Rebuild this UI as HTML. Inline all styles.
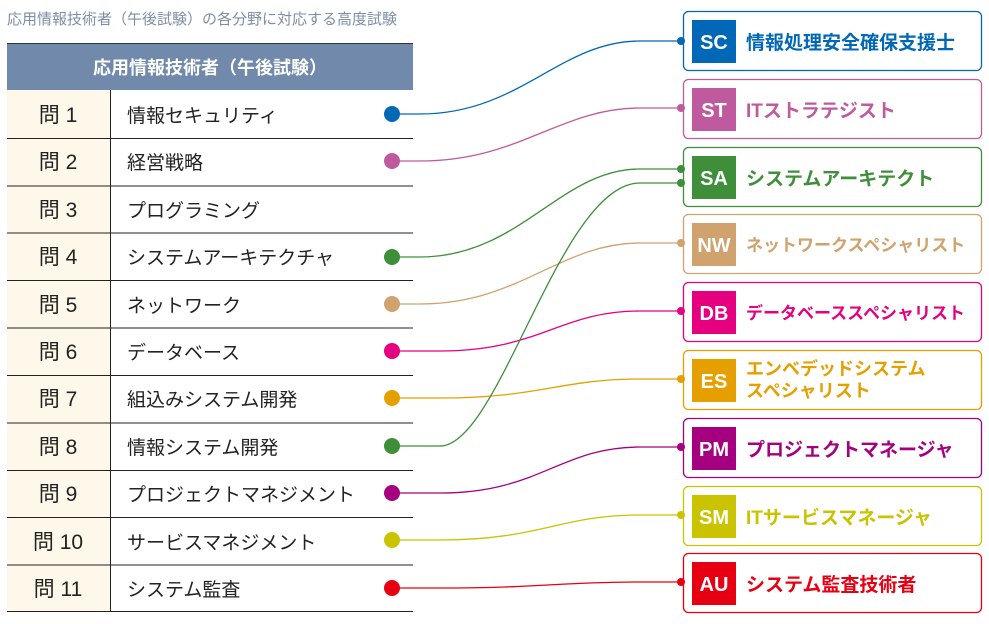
<!DOCTYPE html>
<html><head><meta charset="utf-8"><style>
html,body{margin:0;padding:0;background:#fff;}
svg{display:block;font-family:"Liberation Sans","Noto Sans CJK JP",sans-serif;}
</style></head><body>
<svg width="989" height="624" viewBox="0 0 989 624" xmlns="http://www.w3.org/2000/svg">
<text x="7" y="24" font-size="15" fill="#7d8ea6">応用情報技術者（午後試験）の各分野に対応する高度試験</text>
<rect x="7" y="43" width="406" height="47" fill="#7189ab"/>
<line x1="7" y1="43.5" x2="413" y2="43.5" stroke="#333" stroke-width="1"/>
<text x="210" y="74" font-size="18" fill="#fff" text-anchor="middle" font-weight="bold">応用情報技術者（午後試験）</text>
<rect x="7" y="90" width="103" height="522" fill="#fdf8ea"/>
<line x1="110.5" y1="90" x2="110.5" y2="612" stroke="#222" stroke-width="1"/>
<g stroke="#222" stroke-width="1">
<line x1="7" y1="138.5" x2="413" y2="138.5"/><line x1="7" y1="186" x2="413" y2="186"/>
<line x1="7" y1="233" x2="413" y2="233"/><line x1="7" y1="280.5" x2="413" y2="280.5"/>
<line x1="7" y1="328" x2="413" y2="328"/><line x1="7" y1="375.5" x2="413" y2="375.5"/>
<line x1="7" y1="423" x2="413" y2="423"/><line x1="7" y1="470.5" x2="413" y2="470.5"/>
<line x1="7" y1="517.5" x2="413" y2="517.5"/><line x1="7" y1="565" x2="413" y2="565"/>
<line x1="7" y1="611.5" x2="413" y2="611.5"/>
</g>
<g font-size="21" fill="#222" text-anchor="middle">
<text x="58" y="122">問 1</text><text x="58" y="169">問 2</text><text x="58" y="217">問 3</text>
<text x="58" y="264">問 4</text><text x="58" y="312">問 5</text><text x="58" y="359">問 6</text>
<text x="58" y="406">問 7</text><text x="58" y="454">問 8</text><text x="58" y="501">問 9</text>
<text x="58" y="549">問 10</text><text x="58" y="596">問 11</text>
</g>
<g font-size="19" fill="#222">
<text x="127" y="122">情報セキュリティ</text><text x="127" y="169">経営戦略</text><text x="127" y="217">プログラミング</text>
<text x="127" y="264">システムアーキテクチャ</text><text x="127" y="312">ネットワーク</text><text x="127" y="359">データベース</text>
<text x="127" y="406">組込みシステム開発</text><text x="127" y="454">情報システム開発</text><text x="127" y="501">プロジェクトマネジメント</text>
<text x="127" y="549">サービスマネジメント</text><text x="127" y="596">システム監査</text>
</g>
<g fill="none" stroke-width="1.3">
<path d="M392,114 H420 C520,114 560,41 640,41 H681" stroke="#0068b7"/>
<path d="M392,161 H420 C520,161 560,108 640,108 H681" stroke="#c05a9e"/>
<path d="M392,257 H420 C520,257 560,169 640,169 H681" stroke="#3f8f3a"/>
<path d="M392,304 H420 C520,304 560,243 640,243 H681" stroke="#cfa26e"/>
<path d="M392,351 H440 C540,351 560,311 640,311 H681" stroke="#e4007f"/>
<path d="M392,398 H440 C540,398 560,379 640,379 H681" stroke="#e5a000"/>
<path d="M392,446 H440 C500,446 560,183 640,183 H681" stroke="#3f8f3a"/>
<path d="M392,493 H440 C540,493 560,447 640,447 H681" stroke="#a5007f"/>
<path d="M392,540 H440 C540,540 560,515 640,515 H681" stroke="#c9c300"/>
<path d="M392,588 H440 C540,588 560,582 640,582 H681" stroke="#e60012"/>
</g>
<circle cx="392" cy="114" r="8" fill="#0068b7"/><circle cx="392" cy="161" r="8" fill="#c05a9e"/>
<circle cx="392" cy="257" r="8" fill="#3f8f3a"/><circle cx="392" cy="304" r="8" fill="#cfa26e"/>
<circle cx="392" cy="351" r="8" fill="#e4007f"/><circle cx="392" cy="398" r="8" fill="#e5a000"/>
<circle cx="392" cy="446" r="8" fill="#3f8f3a"/><circle cx="392" cy="493" r="8" fill="#a5007f"/>
<circle cx="392" cy="540" r="8" fill="#c9c300"/><circle cx="392" cy="588" r="8" fill="#e60012"/>
<g font-weight="bold">
<g><rect x="683.5" y="11.5" width="298" height="59" rx="5" fill="#fff" stroke="#0068b7" stroke-width="1.3"/><circle cx="681" cy="41" r="4" fill="#0068b7"/><rect x="692" y="20" width="44" height="43" fill="#0068b7"/><text x="714" y="49" font-size="20" fill="#fff" text-anchor="middle">SC</text><text x="746" y="49" font-size="19" fill="#0068b7">情報処理安全確保支援士</text></g>
<g><rect x="683.5" y="79.5" width="298" height="59" rx="5" fill="#fff" stroke="#c05a9e" stroke-width="1.3"/><circle cx="681" cy="108" r="4" fill="#c05a9e"/><rect x="692" y="88" width="44" height="43" fill="#c05a9e"/><text x="714" y="117" font-size="20" fill="#fff" text-anchor="middle">ST</text><text x="746" y="117" font-size="19" fill="#c05a9e">ITストラテジスト</text></g>
<g><rect x="683.5" y="147.5" width="298" height="59" rx="5" fill="#fff" stroke="#3f8f3a" stroke-width="1.3"/><circle cx="681" cy="169" r="4" fill="#3f8f3a"/><circle cx="681" cy="183" r="4" fill="#3f8f3a"/><rect x="692" y="156" width="44" height="43" fill="#3f8f3a"/><text x="714" y="185" font-size="20" fill="#fff" text-anchor="middle">SA</text><text x="746" y="185" font-size="19" fill="#3f8f3a">システムアーキテクト</text></g>
<g><rect x="683.5" y="214.5" width="298" height="59" rx="5" fill="#fff" stroke="#cfa26e" stroke-width="1.3"/><circle cx="681" cy="243" r="4" fill="#cfa26e"/><rect x="692" y="223" width="44" height="43" fill="#cfa26e"/><text x="714" y="252" font-size="20" fill="#fff" text-anchor="middle">NW</text><text x="746" y="251" font-size="17" fill="#cfa26e">ネットワークスペシャリスト</text></g>
<g><rect x="683.5" y="282.5" width="298" height="59" rx="5" fill="#fff" stroke="#e4007f" stroke-width="1.3"/><circle cx="681" cy="311" r="4" fill="#e4007f"/><rect x="692" y="291" width="44" height="43" fill="#e4007f"/><text x="714" y="320" font-size="20" fill="#fff" text-anchor="middle">DB</text><text x="746" y="319" font-size="17" fill="#e4007f">データベーススペシャリスト</text></g>
<g><rect x="683.5" y="350.5" width="298" height="59" rx="5" fill="#fff" stroke="#e5a000" stroke-width="1.3"/><circle cx="681" cy="379" r="4" fill="#e5a000"/><rect x="692" y="359" width="44" height="43" fill="#e5a000"/><text x="714" y="388" font-size="20" fill="#fff" text-anchor="middle">ES</text><text x="746" y="375" font-size="18" fill="#e5a000">エンベデッドシステム</text><text x="746" y="397" font-size="18" fill="#e5a000">スペシャリスト</text></g>
<g><rect x="683.5" y="418.5" width="298" height="59" rx="5" fill="#fff" stroke="#a5007f" stroke-width="1.3"/><circle cx="681" cy="447" r="4" fill="#a5007f"/><rect x="692" y="427" width="44" height="43" fill="#a5007f"/><text x="714" y="456" font-size="20" fill="#fff" text-anchor="middle">PM</text><text x="746" y="456" font-size="19" fill="#a5007f">プロジェクトマネージャ</text></g>
<g><rect x="683.5" y="486.5" width="298" height="59" rx="5" fill="#fff" stroke="#c9c300" stroke-width="1.3"/><circle cx="681" cy="515" r="4" fill="#c9c300"/><rect x="692" y="495" width="44" height="43" fill="#c9c300"/><text x="714" y="524" font-size="20" fill="#fff" text-anchor="middle">SM</text><text x="746" y="524" font-size="19" fill="#c9c300">ITサービスマネージャ</text></g>
<g><rect x="683.5" y="553.5" width="298" height="59" rx="5" fill="#fff" stroke="#e60012" stroke-width="1.3"/><circle cx="681" cy="582" r="4" fill="#e60012"/><rect x="692" y="562" width="44" height="43" fill="#e60012"/><text x="714" y="591" font-size="20" fill="#fff" text-anchor="middle">AU</text><text x="746" y="591" font-size="19" fill="#e60012">システム監査技術者</text></g>
</g>
</svg>
</body></html>
